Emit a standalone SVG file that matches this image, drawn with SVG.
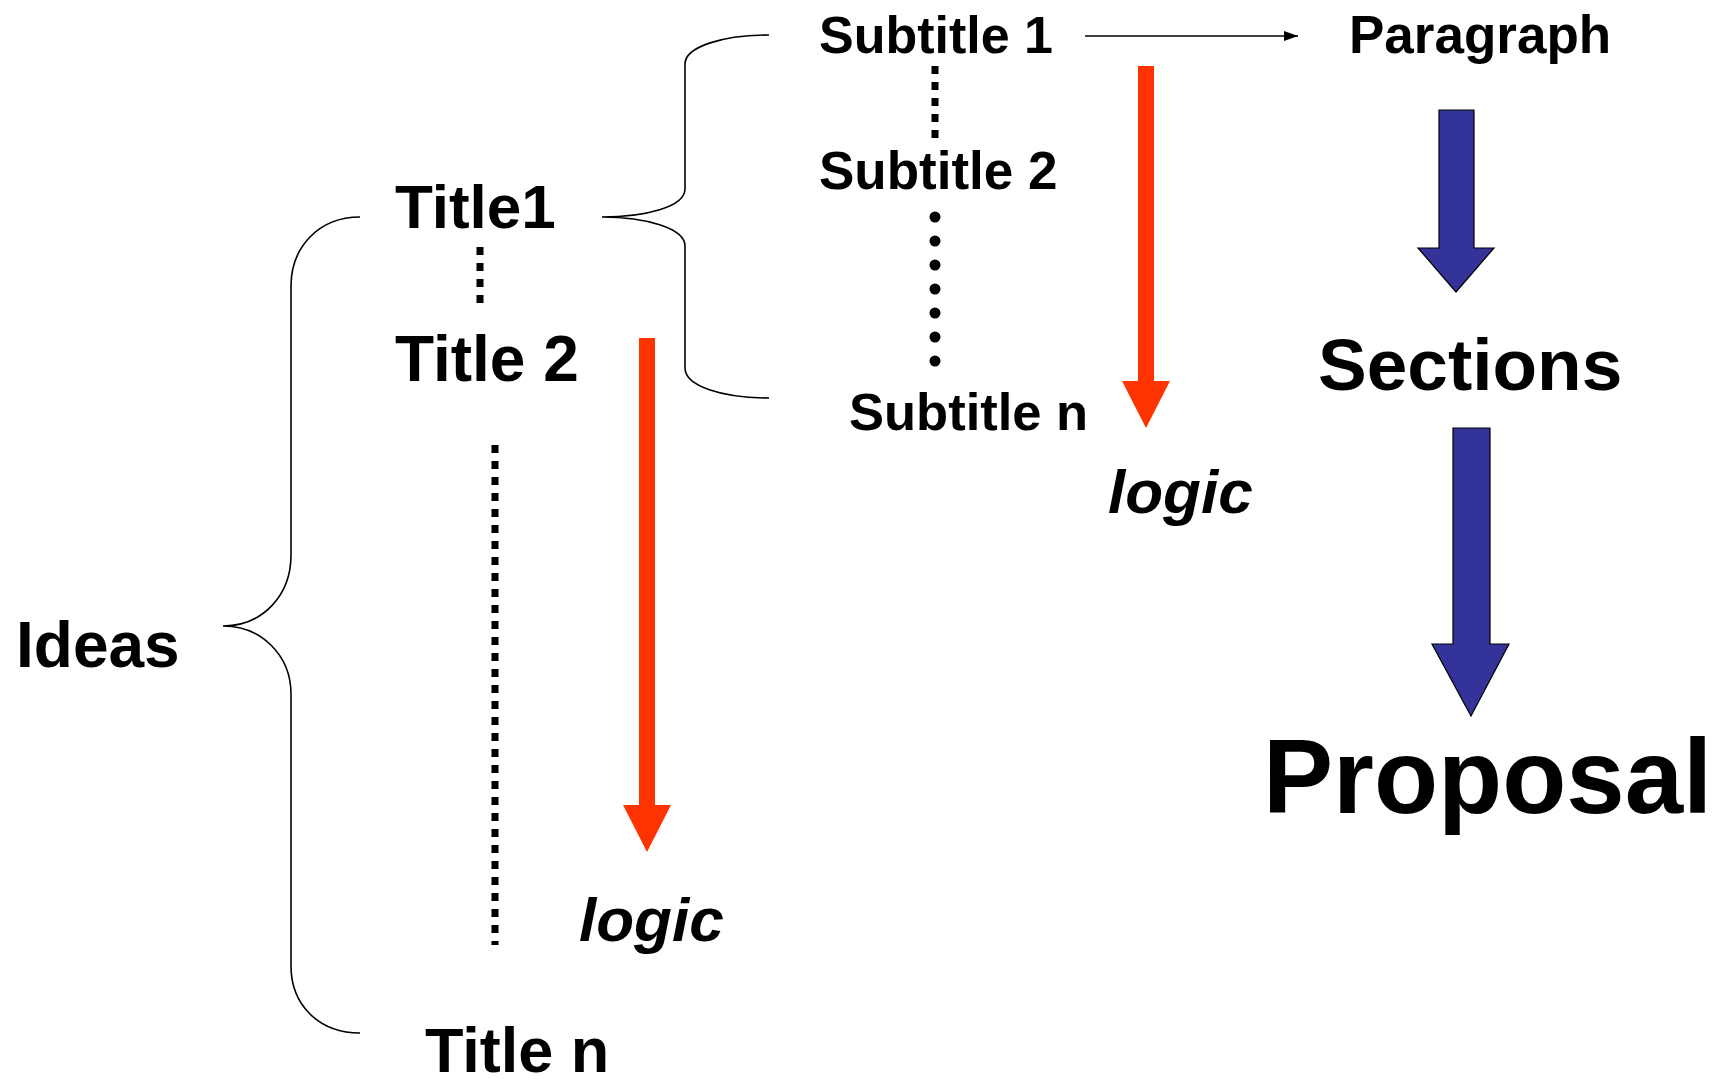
<svg xmlns="http://www.w3.org/2000/svg" width="1722" height="1079" viewBox="0 0 1722 1079">
  <style>
    .lbl { font-family: "Liberation Sans", Arial, sans-serif; font-weight: bold; fill: #000; }
    .it { font-style: italic; }
    .brace { fill: none; stroke: #000; stroke-width: 1.6; }
    .sq { stroke: #000; stroke-width: 7; stroke-dasharray: 8 8; fill: none; }
    .dots { stroke: #000; stroke-width: 11; stroke-linecap: round; stroke-dasharray: 0 24; fill: none; }
    .red { fill: #FF3300; }
    .blue { fill: #333399; stroke: #000; stroke-width: 1.2; }
  </style>
  <defs>
    <marker id="tri" viewBox="0 0 14 10" refX="14" refY="5" markerWidth="14" markerHeight="10" markerUnits="userSpaceOnUse" orient="auto">
      <path d="M0,0 L14,5 L0,10 z" fill="#000"/>
    </marker>
  </defs>
  <rect width="1722" height="1079" fill="#fff"/>

  <!-- connectors: braces, dotted runs and arrows -->
  <g id="connectors">
    <path class="brace" d="M360,217 C318,217 291,248 291,286 L291,555 C291,596 262,626 223,626 C262,626 291,656 291,694 L291,966 C291,1004 318,1033 360,1033"/>
    <path class="brace" d="M769,35 C722,35 685,47 685,64 L685,189 C685,207 645,217 602,217 C645,217 685,228 685,246 L685,368 C685,386 722,398 769,398"/>
    <line class="sq" x1="480" y1="247" x2="480" y2="303"/>
    <line class="sq" x1="495" y1="445" x2="495" y2="945"/>
    <line class="sq" x1="935" y1="66" x2="935" y2="138"/>
    <line class="dots" x1="935" y1="217" x2="935" y2="362"/>
    <line x1="1085" y1="36" x2="1298" y2="36" stroke="#000" stroke-width="1.6" marker-end="url(#tri)"/>
    <path class="red" d="M639,338 L655,338 L655,805 L671,805 L647,852 L623,805 L639,805 z"/>
    <path class="red" d="M1138,66 L1154,66 L1154,381 L1170,381 L1146,428 L1122,381 L1138,381 z"/>
    <path class="blue" d="M1439,110 L1474,110 L1474,248 L1494,248 L1456,292 L1418,248 L1439,248 z"/>
    <path class="blue" d="M1453,428 L1490,428 L1490,644 L1509,644 L1471,716 L1432,644 L1453,644 z"/>
  </g>

  <g id="ideas"><text class="lbl" x="16" y="667" font-size="64">Ideas</text></g>
  <g id="title1"><text class="lbl" x="395" y="228" font-size="62">Title1</text></g>
  <g id="title2"><text class="lbl" x="395" y="381" font-size="64">Title 2</text></g>
  <g id="titlen"><text class="lbl" x="425" y="1072" font-size="63">Title n</text></g>
  <g id="logic1"><text class="lbl it" x="579" y="941" font-size="62">logic</text></g>
  <g id="subtitle1"><text class="lbl" x="819" y="53" font-size="52">Subtitle 1</text></g>
  <g id="subtitle2"><text class="lbl" x="819" y="189" font-size="53">Subtitle 2</text></g>
  <g id="subtitlen"><text class="lbl" x="849" y="430" font-size="52.5">Subtitle n</text></g>
  <g id="logic2"><text class="lbl it" x="1108" y="513" font-size="62">logic</text></g>
  <g id="paragraph"><text class="lbl" x="1349" y="53" font-size="53">Paragraph</text></g>
  <g id="sections"><text class="lbl" x="1318" y="390" font-size="73">Sections</text></g>
  <g id="proposal"><text class="lbl" x="1263" y="813" font-size="105">Proposal</text></g>
</svg>
